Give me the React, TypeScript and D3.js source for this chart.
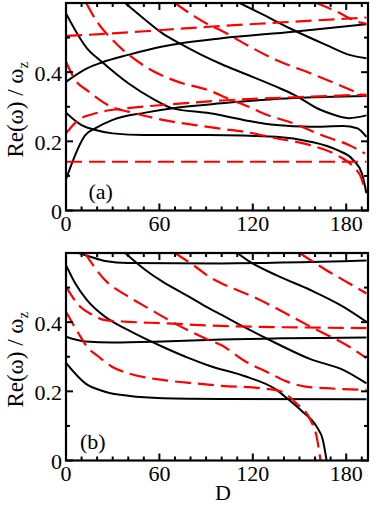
import React from "react";
import * as d3 from "d3";

type P = [number, number];

// ---- axis ticks ----
const xMajorTicks = [0, 60, 120, 180];
const xMinorTicks = d3.range(10, 194, 10).filter((d) => d % 60 !== 0);
const yMajorTicks = [0, 0.2, 0.4];
const yMinorTicks = [0.1, 0.3, 0.5];
const yTickLabels = ["0", "0.2", "0.4"];
const xTickLabels = ["0", "60", "120", "180"];

// ---- panel (a): black solid ----
const aBlack1: P[] = [[0,0.283],[10,0.247],[19,0.233],[30,0.223],[50,0.218],[92,0.218],[135,0.213],[157,0.199],[174,0.175],[184.5,0.146],[190,0.108],[193,0.05]];
const aBlack2: P[] = [[0,0.09],[12.4,0.218],[19,0.238],[30,0.262],[51,0.283],[72,0.298],[100,0.31],[146,0.325],[193,0.331]];
const aBlack3: P[] = [[0,0.372],[13.5,0.411],[23,0.428],[40,0.45],[62,0.474],[73,0.483],[100,0.498],[146,0.517],[193,0.539]];
const aBlack4: P[] = [[0,0.57],[13.5,0.469],[23,0.43],[40,0.368],[57,0.32],[68,0.296],[92.5,0.281],[114,0.262],[135,0.247],[157,0.242],[178,0.244],[187,0.238],[193,0.213]];
const aBlack5: P[] = [[38,0.6],[51,0.551],[62,0.512],[73,0.483],[87,0.45],[100,0.423],[114,0.397],[135,0.358],[146,0.336],[163,0.292],[172,0.277],[182,0.267],[193,0.275]];
const aBlack6: P[] = [[111.5,0.6],[125,0.57],[146,0.522],[167,0.479],[182,0.45],[193,0.44]];

// ---- panel (a): red dashed ----
const aRed1: P[] = [[0,0.141],[193,0.141]];
const aRed2: P[] = [[0,0.223],[8,0.262],[19,0.281],[40,0.296],[62,0.305],[100,0.318],[150,0.328],[193,0.335]];
const aRed3: P[] = [[0,0.43],[6,0.377],[14,0.346],[30,0.298],[40,0.286],[62,0.262],[83,0.247],[100,0.236],[114,0.228],[135,0.209],[157,0.189],[174,0.16],[184.5,0.127],[190,0.09],[192,0.055]];
const aRed4: P[] = [[0,0.505],[30,0.512],[62,0.522],[94,0.532],[135,0.543],[193,0.558]];
const aRed5: P[] = [[13,0.6],[20,0.545],[29.5,0.495],[51,0.416],[72,0.372],[92,0.347],[105,0.322],[120,0.295],[125,0.284],[146,0.252],[167,0.213],[182,0.189],[192,0.165]];
const aRed6: P[] = [[70,0.6],[83,0.56],[94,0.532],[99,0.522],[114,0.484],[135,0.435],[157,0.397],[178,0.358],[192,0.33]];
const aRed7: P[] = [[161,0.6],[174,0.575],[187,0.546],[193,0.54]];

// ---- panel (b): black solid ----
const bBlack1: P[] = [[8,0.6],[15,0.59],[25,0.577],[40,0.571],[100,0.57],[193,0.578]];
const bBlack2: P[] = [[38,0.6],[51,0.551],[62,0.517],[79,0.474],[92,0.44],[100,0.421],[114,0.387],[135,0.339],[157,0.293],[178,0.262],[193,0.223]];
const bBlack3: P[] = [[110,0.6],[118,0.575],[135,0.536],[157,0.493],[178,0.445],[193,0.401]];
const bBlack4: P[] = [[0,0.565],[6,0.512],[13.5,0.464],[25,0.416],[40,0.377],[62,0.329],[79,0.296],[92,0.274],[114,0.245],[135,0.205],[142,0.18],[152,0.141],[161,0.098],[165,0.059],[167.4,0]];
const bBlack5: P[] = [[0,0.358],[12.4,0.344],[30,0.341],[62,0.344],[100,0.35],[193,0.356]];
const bBlack6: P[] = [[0,0.282],[12.4,0.223],[25,0.199],[40,0.187],[62,0.18],[100,0.178],[193,0.177]];

// ---- panel (b): red dashed ----
const bRed1: P[] = [[0,0.43],[8,0.368],[13.5,0.329],[21,0.3],[29.5,0.271],[40,0.252],[62,0.233],[83,0.223],[100,0.216],[125,0.209],[138,0.2],[148,0.165],[157,0.117],[161,0.069],[163.5,0]];
const bRed2: P[] = [[0,0.503],[8,0.45],[17,0.421],[25,0.406],[40,0.401],[62,0.397],[100,0.389],[193,0.383]];
const bRed3: P[] = [[12,0.6],[25,0.522],[40,0.474],[53,0.44],[68,0.401],[89.5,0.353],[100,0.333],[114,0.29],[131,0.252],[142,0.228],[155,0.213],[167,0.209],[193,0.204]];
const bRed4: P[] = [[70,0.6],[83,0.561],[92.5,0.53],[100,0.512],[120,0.474],[135,0.44],[157,0.387],[182,0.329],[193,0.296]];
const bRed5: P[] = [[150,0.6],[167,0.551],[182,0.512],[193,0.483]];

const panelA = { black: [aBlack1, aBlack2, aBlack3, aBlack4, aBlack5, aBlack6], red: [aRed1, aRed2, aRed3, aRed4, aRed5, aRed6, aRed7], label: "(a)" };
const panelB = { black: [bBlack1, bBlack2, bBlack3, bBlack4, bBlack5, bBlack6], red: [bRed1, bRed2, bRed3, bRed4, bRed5], label: "(b)" };

const FONT = "Liberation Serif, Times New Roman, serif";
const LEFT = 66;
const RIGHT = 368;

function Panel({ top, bottom, data, labelX, id }: { top: number; bottom: number; data: typeof panelA; labelX: number; id: string }) {
  const x = d3.scaleLinear().domain([0, 194]).range([LEFT, RIGHT]);
  const y = d3.scaleLinear().domain([0, 0.6]).range([bottom, top]);
  const line = d3
    .line<P>()
    .x((d) => x(d[0]))
    .y((d) => y(d[1]))
    .curve(d3.curveMonotoneX);
  const maj = 7;
  const min = 4;
  const midY = (top + bottom) / 2 + 3;
  return (
    <g>
      <defs>
        <clipPath id={id}>
          <rect x={LEFT} y={top} width={RIGHT - LEFT} height={bottom - top} />
        </clipPath>
      </defs>
      <g clipPath={`url(#${id})`} fill="none">
        {data.black.map((c, i) => (
          <path key={"b" + i} d={line(c) || ""} stroke="#000" strokeWidth={2} />
        ))}
        {data.red.map((c, i) => (
          <path key={"r" + i} d={line(c) || ""} stroke="#ff0000" strokeWidth={2.2} strokeDasharray="16,7" />
        ))}
      </g>
      <g stroke="#000" strokeWidth={2}>
        {xMajorTicks.map((t) => (
          <g key={"xm" + t}>
            <line x1={x(t)} x2={x(t)} y1={bottom} y2={bottom - maj} />
            <line x1={x(t)} x2={x(t)} y1={top} y2={top + maj} />
          </g>
        ))}
        {xMinorTicks.map((t) => (
          <g key={"xn" + t}>
            <line x1={x(t)} x2={x(t)} y1={bottom} y2={bottom - min} />
            <line x1={x(t)} x2={x(t)} y1={top} y2={top + min} />
          </g>
        ))}
        {yMajorTicks.map((t) => (
          <g key={"ym" + t}>
            <line x1={LEFT} x2={LEFT + maj} y1={y(t)} y2={y(t)} />
            <line x1={RIGHT} x2={RIGHT - maj} y1={y(t)} y2={y(t)} />
          </g>
        ))}
        {yMinorTicks.map((t) => (
          <g key={"yn" + t}>
            <line x1={LEFT} x2={LEFT + min} y1={y(t)} y2={y(t)} />
            <line x1={RIGHT} x2={RIGHT - min} y1={y(t)} y2={y(t)} />
          </g>
        ))}
      </g>
      <rect x={LEFT} y={top} width={RIGHT - LEFT} height={bottom - top} fill="none" stroke="#000" strokeWidth={2.2} />
      <g fontFamily={FONT} fontSize={22} fill="#000">
        {yMajorTicks.map((t, i) => (
          <text key={"yl" + t} x={62} y={y(t) + 8.5} textAnchor="end">
            {yTickLabels[i]}
          </text>
        ))}
        {xMajorTicks.map((t, i) => (
          <text key={"xl" + t} x={x(t)} y={bottom + 20.5} textAnchor="middle">
            {xTickLabels[i]}
          </text>
        ))}
        <text x={labelX} y={bottom - 12} fontSize={22}>
          {data.label}
        </text>
        <text transform={`translate(23,${midY}) rotate(-90)`} textAnchor="middle" fontSize={23}>
          Re(ω) / ω
          <tspan fontSize={15} dy={5}>z</tspan>
        </text>
      </g>
    </g>
  );
}

export default function App() {
  return (
    <svg width={382} height={506} style={{ position: "absolute", left: 0, top: 0, background: "#fff" }}>
      <rect width={382} height={506} fill="#fff" />
      <Panel top={3} bottom={210.5} data={panelA} labelX={88.5} id="clipA" />
      <Panel top={253} bottom={460.5} data={panelB} labelX={80} id="clipB" />
      <text x={223} y={500} fontFamily={FONT} fontSize={22} textAnchor="middle">
        D
      </text>
    </svg>
  );
}
